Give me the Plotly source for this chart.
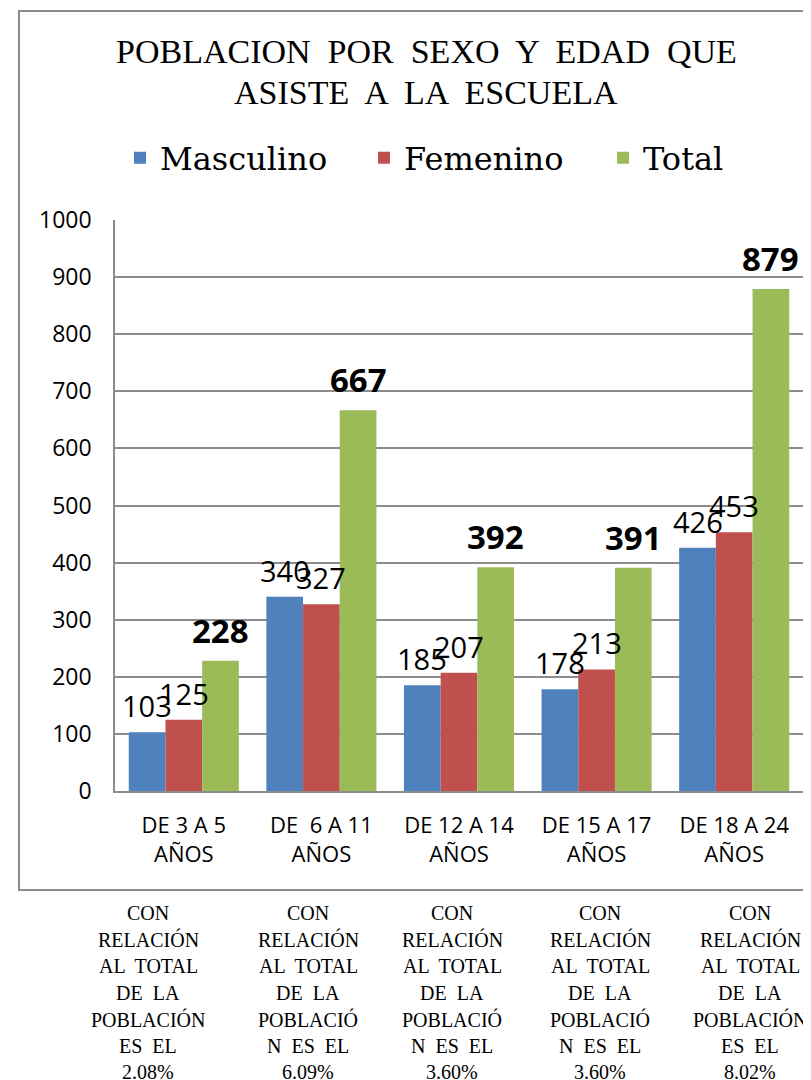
import plotly.graph_objects as go

# --- data ---
grupos = ["DE 3 A 5<br>AÑOS", "DE  6 A 11<br>AÑOS", "DE 12 A 14<br>AÑOS",
          "DE 15 A 17<br>AÑOS", "DE 18 A 24<br>AÑOS"]
masculino = [103, 340, 185, 178, 426]
femenino = [125, 327, 207, 213, 453]
total = [228, 667, 392, 391, 879]
porcentajes = ["2.08%", "6.09%", "3.60%", "3.60%", "8.02%"]
titulo = ["POBLACION  POR  SEXO  Y  EDAD  QUE", "ASISTE  A  LA  ESCUELA"]

AZUL = "#4F81BD"
ROJO = "#C0504D"
VERDE = "#9BBB59"
GRIS = "#8C8C8C"
SANS = "Open Sans"
SERIF = "DejaVu Serif"
TIMES = "Liberation Serif"

# page body adds an 8px margin, so work in screen pixels and subtract it
OFF = 8
W, H = 811 - OFF, 1080 - OFF
L, R, T, B = 115 - OFF, 8, 220 - OFF, 1080 - 791
PW = W - L - R
PH = H - T - B
GAP = 0.2
BARW = PW / len(grupos) * (1 - GAP) / 3


def px_x(x):
    return (x - OFF - L) / PW


def px_y(y):
    return (H - B - (y - OFF)) / PH


fig = go.Figure()
series = [("Masculino", masculino, AZUL, False, "legend", 120),
          ("Femenino", femenino, ROJO, False, "legend2", 364),
          ("Total", total, VERDE, True, "legend3", 603)]
leyendas = {}
for k, (nombre, vals, color, bold, leg, lx) in enumerate(series):
    fig.add_trace(go.Bar(name=nombre, x=grupos, y=vals, marker_color=color,
                         marker_line_width=0, legend=leg))
    leyendas[leg] = dict(x=px_x(lx), xanchor="left", y=px_y(158), yanchor="middle",
                         font=dict(family=SERIF, size=32, color="black"),
                         itemwidth=30, bgcolor="rgba(0,0,0,0)")
    # value labels sit ~20px above each bar
    for g, v in zip(grupos, vals):
        fig.add_annotation(
            x=g, y=v, xref="x", yref="y", text=str(v), showarrow=False,
            xshift=(k - 1) * BARW, yshift=6 if bold else 5, yanchor="bottom",
            font=dict(family=SANS, size=33 if bold else 29, color="black",
                      weight="bold" if bold else "normal"),
        )

# title, two lines
for j, linea in enumerate(titulo):
    fig.add_annotation(text=linea, x=px_x(426), y=px_y(51 + j * 41), xref="paper", yref="paper",
                       showarrow=False, xanchor="center", yanchor="middle",
                       font=dict(family=TIMES, size=34, color="black"))

# notes under the chart
for i, pct in enumerate(porcentajes):
    if i in (0, 4):
        lineas = ["CON", "RELACIÓN", "AL  TOTAL", "DE  LA", "POBLACIÓN", "ES  EL", pct]
    else:
        lineas = ["CON", "RELACIÓN", "AL  TOTAL", "DE  LA", "POBLACIÓ", "N  ES  EL", pct]
    cx = [148, 308, 452, 600, 750][i]
    for j, txt in enumerate(lineas):
        fig.add_annotation(
            text=txt, x=px_x(cx), y=px_y(913 + j * 26.5), xref="paper", yref="paper",
            showarrow=False, xanchor="center", yanchor="middle",
            font=dict(family=TIMES, size=20, color="black"),
        )

# outer chart frame
fig.add_shape(type="rect", xref="paper", yref="paper",
              x0=px_x(19), x1=px_x(830), y0=px_y(890), y1=px_y(11),
              line=dict(color=GRIS, width=2), layer="below")

fig.update_layout(
    width=W, height=H,
    margin=dict(l=L, r=R, t=T, b=B),
    paper_bgcolor="white", plot_bgcolor="white",
    barmode="group", bargap=GAP, bargroupgap=0,
    showlegend=True,
    **leyendas,
)
fig.update_yaxes(range=[0, 1000], dtick=100, showgrid=True, gridcolor=GRIS, gridwidth=1.5,
                 showline=True, linecolor=GRIS, linewidth=1.5, zeroline=False,
                 ticks="", ticklabelstandoff=17,
                 tickfont=dict(family=SANS, size=23, color="black"))
fig.update_xaxes(showline=True, linecolor=GRIS, linewidth=1.5, ticks="",
                 ticklabelstandoff=14,
                 tickfont=dict(family=SANS, size=22, color="black"))

fig.write_html("out.html")
